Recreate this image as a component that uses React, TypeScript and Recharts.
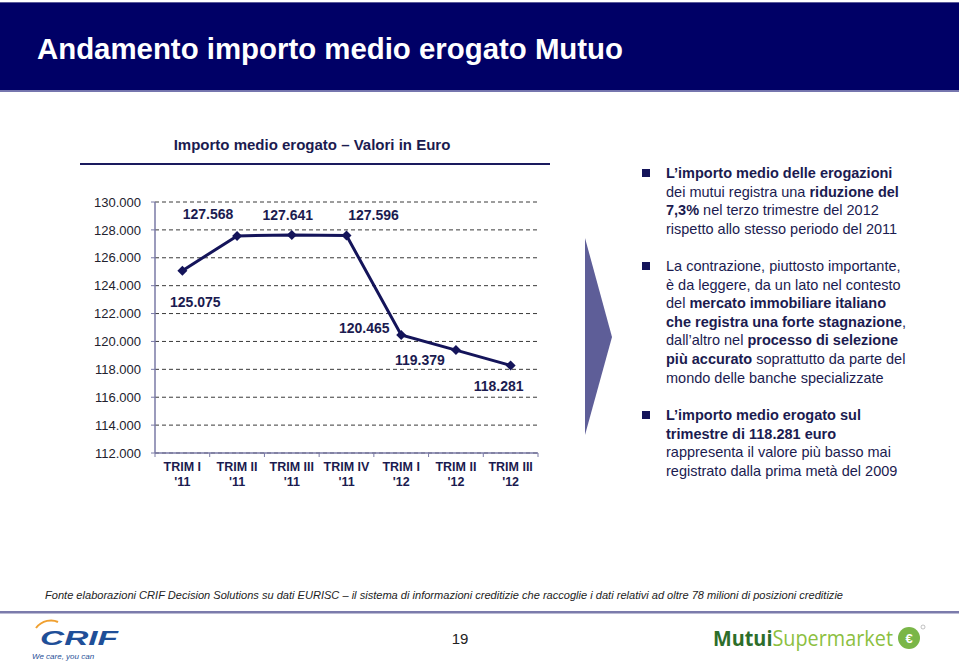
import { CartesianGrid, LabelList, Line, LineChart, XAxis, YAxis } from "recharts"

const QUARTERS = ["TRIM I|'11", "TRIM II|'11", "TRIM III|'11", "TRIM IV|'11", "TRIM I|'12", "TRIM II|'12", "TRIM III|'12"]
const IMPORTO = [125075, 127568, 127641, 127596, 120465, 119379, 118281]
const Y_TICKS = [112000, 114000, 116000, 118000, 120000, 122000, 124000, 126000, 128000, 130000]

// where each value label sits relative to its point
const LABEL_SHIFT: [number, number][] = [
  [13, 31],
  [-29, -22],
  [-4, -20],
  [27, -21],
  [-37, -7],
  [-36, 10],
  [-12, 21],
]

const NAVY = "#14145a"
const TEXT = "#1b1b50"
const FONT = "'Liberation Sans', Arial, sans-serif"
const NARROW = "'Liberation Sans Narrow', 'Arial Narrow', 'Liberation Sans', sans-serif"

const CHART_W = 470
const MARGIN = { top: 12, right: 12, left: 0, bottom: 7 }
const Y_W = 75
const STEP = (CHART_W - MARGIN.left - MARGIN.right - Y_W) / QUARTERS.length

const data = QUARTERS.map((q, i) => ({ trim: q, importo: IMPORTO[i] }))

const fmt = (v: number) => v.toLocaleString("de-DE", { minimumFractionDigits: 0 })

function Diamond(props: any) {
  const { cx, cy } = props
  if (cx == null || cy == null) return null
  const r = 5
  return <path d={`M${cx},${cy - r}L${cx + r},${cy}L${cx},${cy + r}L${cx - r},${cy}Z`} fill={NAVY} />
}

function QuarterTick(props: any) {
  const { x, y, payload, index } = props
  const [a, b] = String(payload.value).split("|")
  return (
    <g>
      <line x1={x - STEP / 2} x2={x - STEP / 2} y1={y - 8} y2={y - 4} stroke="#7a7aa6" />
      {index === QUARTERS.length - 1 && (
        <line x1={x + STEP / 2} x2={x + STEP / 2} y1={y - 8} y2={y - 4} stroke="#7a7aa6" />
      )}
      <text x={x} y={y + 6} textAnchor="middle" fontFamily={FONT} fontSize={12.5} fontWeight="bold" fill={TEXT}>
        <tspan x={x} dy="0.35em">{a}</tspan>
        <tspan x={x} dy="15">{b}</tspan>
      </text>
    </g>
  )
}

function ValueLabel(props: any) {
  const { x, y, value, index } = props
  const [dx, dy] = LABEL_SHIFT[index] ?? [0, -14]
  return (
    <text x={x + dx} y={y + dy} textAnchor="middle" dominantBaseline="central" fontFamily={FONT} fontSize={14} fontWeight="bold" fill={TEXT}>
      {fmt(value)}
    </text>
  )
}

function Bullet({ top, lines }: { top: number; lines: React.ReactNode[] }) {
  return (
    <div style={{ position: "absolute", left: 642, top, width: 310 }}>
      <div style={{ position: "absolute", left: 0, top: 5, width: 8, height: 8, background: "#14145a" }} />
      <div style={{ marginLeft: 24, fontFamily: FONT, fontSize: 14.5, lineHeight: "18.6px", color: TEXT, whiteSpace: "nowrap" }}>
        {lines.map((l, i) => (
          <div key={i}>{l}</div>
        ))}
      </div>
    </div>
  )
}

export default function App() {
  return (
    <div style={{ position: "absolute", left: 0, top: 0, width: 959, height: 661, background: "#fff", overflow: "hidden" }}>
      {/* title bar */}
      <div style={{ position: "absolute", left: 0, top: 2, width: 959, height: 87, background: "#000066", borderTop: "1px solid #5a5a99", borderBottom: "2px solid #7676ae" }} />
      <svg style={{ position: "absolute", left: 0, top: 0 }} width={959} height={100}>
        <text x={37} y={59} fontFamily={NARROW} fontSize={29} fontWeight="bold" fill="#fff" textLength={586} lengthAdjust="spacingAndGlyphs">
          Andamento importo medio erogato Mutuo
        </text>
      </svg>

      {/* chart header */}
      <div style={{ position: "absolute", left: 80, top: 136, width: 464, textAlign: "center", fontFamily: FONT, fontSize: 15, fontWeight: "bold", color: TEXT }}>
        Importo medio erogato – Valori in Euro
      </div>
      <div style={{ position: "absolute", left: 80, top: 163, width: 470, height: 2, background: "#1a1a5e" }} />

      <div style={{ position: "absolute", left: 80, top: 190 }}>
        <LineChart width={CHART_W} height={310} data={data} margin={MARGIN}>
          <CartesianGrid vertical={false} stroke="#3a3a3a" strokeDasharray="4 3" />
          <XAxis
            dataKey="trim"
            height={40}
            tick={<QuarterTick />}
            tickLine={false}
            axisLine={{ stroke: "#7a7aa6", strokeWidth: 1.5 }}
            interval={0}
            padding={{ left: STEP / 2, right: STEP / 2 }}
          />
          <YAxis
            width={Y_W}
            domain={[112000, 130000]}
            ticks={Y_TICKS}
            tickFormatter={fmt}
            tickSize={4}
            tickMargin={10}
            tickLine={{ stroke: "#7a7aa6" }}
            axisLine={{ stroke: "#7a7aa6", strokeWidth: 1.5 }}
            tick={{ fontFamily: FONT, fontSize: 13, fill: "#22222e" }}
            allowDataOverflow
          />
          <Line
            dataKey="importo"
            stroke={NAVY}
            strokeWidth={3}
            dot={<Diamond />}
            activeDot={false}
            isAnimationActive={false}
          >
            <LabelList dataKey="importo" content={<ValueLabel />} />
          </Line>
        </LineChart>
      </div>

      {/* arrow */}
      <svg style={{ position: "absolute", left: 0, top: 0 }} width={959} height={661} pointerEvents="none">
        <polygon points="585,238 612,337 585,435" fill="#5e5e98" />
      </svg>

      <Bullet
        top={164}
        lines={[
          <b>L’importo medio delle erogazioni</b>,
          <>dei mutui registra una <b>riduzione del</b></>,
          <><b>7,3%</b> nel terzo trimestre del 2012</>,
          <>rispetto allo stesso periodo del 2011</>,
        ]}
      />
      <Bullet
        top={257}
        lines={[
          <>La contrazione, piuttosto importante,</>,
          <>è da leggere, da un lato nel contesto</>,
          <>del <b>mercato immobiliare italiano</b></>,
          <><b>che registra una forte stagnazione</b>,</>,
          <>dall’altro nel <b>processo di selezione</b></>,
          <><b>più accurato</b> soprattutto da parte del</>,
          <>mondo delle banche specializzate</>,
        ]}
      />
      <Bullet
        top={406}
        lines={[
          <b>L’importo medio erogato sul</b>,
          <b>trimestre di 118.281 euro</b>,
          <>rappresenta il valore più basso mai</>,
          <>registrato dalla prima metà del 2009</>,
        ]}
      />

      {/* footer */}
      <svg style={{ position: "absolute", left: 0, top: 0 }} width={959} height={661}>
        <text x={45} y={599} fontFamily={NARROW} fontSize={11} fontStyle="italic" fill="#222" textLength={798} lengthAdjust="spacingAndGlyphs">
          Fonte elaborazioni CRIF Decision Solutions su dati EURISC – il sistema di informazioni creditizie che raccoglie i dati relativi ad oltre 78 milioni di posizioni creditizie
        </text>
        <rect x={0} y={611} width={959} height={2.5} fill="#7b7bab" />
        <text x={460} y={644} textAnchor="middle" fontFamily={FONT} fontSize={15} fill="#222">19</text>

        {/* CRIF mark */}
        <path d="M36,628 C42,620 52,619 58,622" stroke="#f0a030" strokeWidth={2} fill="none" />
        <text x={40} y={645} fontFamily={FONT} fontSize={21} fontWeight="bold" fontStyle="italic" fill="#1f4f98" textLength={78} lengthAdjust="spacingAndGlyphs">CRIF</text>
        <text x={32} y={659} fontFamily={FONT} fontSize={8} fontStyle="italic" fill="#1f4f98">We care, you can</text>

        {/* MutuiSupermarket mark */}
        <text x={713} y={646} fontFamily="'Open Sans', 'Noto Sans', sans-serif" fontSize={22} fill="#8cbf3f" textLength={180} lengthAdjust="spacingAndGlyphs">
          <tspan fontWeight="bold" fill="#2d6e2a">Mutui</tspan>Supermarket
        </text>
        <circle cx={909} cy={638} r={11} fill="#7ab648" />
        <text x={909} y={643} textAnchor="middle" fontFamily={FONT} fontSize={13} fontWeight="bold" fill="#fff">€</text>
        <circle cx={923} cy={627} r={2} fill="none" stroke="#999" strokeWidth={0.6} />
      </svg>
    </div>
  )
}
